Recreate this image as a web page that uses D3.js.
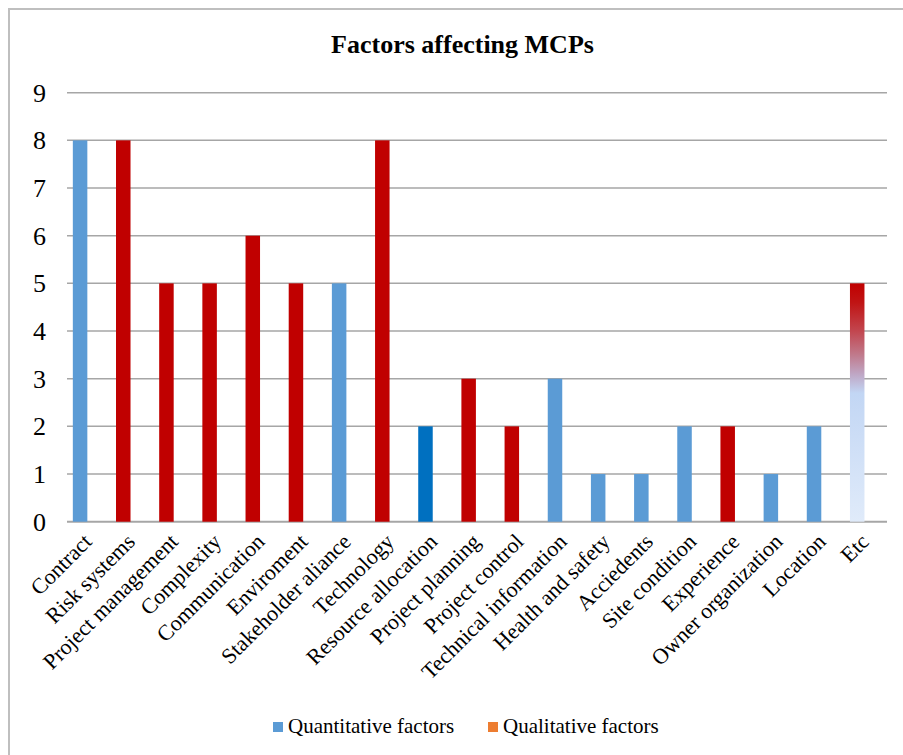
<!DOCTYPE html>
<html>
<head>
<meta charset="utf-8">
<script src="https://cdn.jsdelivr.net/npm/d3@7"></script>
<style>
  html, body { margin: 0; padding: 0; background: #fff; }
  svg { display: block; font-family: "Liberation Serif", "Times New Roman", serif; }
</style>
</head>
<body>
<svg id="chart" width="903" height="755"></svg>
<script>
// Factors and how many times each was cited
const categories = [
  "Contract", "Risk systems", "Project management", "Complexity", "Communication",
  "Enviroment", "Stakeholder aliance", "Technology", "Resource allocation",
  "Project planning", "Project control", "Technical information", "Health and safety",
  "Acciedents", "Site condition", "Experience", "Owner organization", "Location", "Etc"
];
const values = [8, 8, 5, 5, 6, 5, 5, 8, 2, 3, 2, 3, 1, 1, 2, 2, 1, 2, 5];
// Fill style of each bar
const factorType = [
  "quant", "qual", "qual", "qual", "qual", "qual", "quant", "qual", "quantDark",
  "qual", "qual", "quant", "quant", "quant", "quant", "qual", "quant", "quant", "mixed"
];
const yTicks = [0, 1, 2, 3, 4, 5, 6, 7, 8, 9];
const legendItems = ["Quantitative factors", "Qualitative factors"];
const legendColors = ["#5B9BD5", "#ED7D31"];

const fills = {
  quant: "#5B9BD5",
  qual: "#C00000",
  quantDark: "#0070C0",
  mixed: "url(#mixedFill)"
};

const svg = d3.select("#chart");

// chart frame
svg.append("rect")
  .attr("x", 9).attr("y", 9)
  .attr("width", 1000).attr("height", 1000)
  .attr("fill", "#fff")
  .attr("stroke", "#BFBFBF")
  .attr("stroke-width", 2);

// gradient used by the "Etc" bar
const defs = svg.append("defs");
const grad = defs.append("linearGradient")
  .attr("id", "mixedFill")
  .attr("x1", 0).attr("y1", 0).attr("x2", 0).attr("y2", 1);
[
  [0.00, "#C00000"],
  [0.08, "#C01414"],
  [0.20, "#C2464F"],
  [0.30, "#C07A8C"],
  [0.38, "#BFA6C4"],
  [0.46, "#C2D6F4"],
  [1.00, "#E0EBFA"]
].forEach(([o, c]) => grad.append("stop").attr("offset", o).attr("stop-color", c));

const y = d3.scaleLinear().domain([0, 9]).range([521.7, 92.7]);
const x = d3.scaleBand()
  .domain(categories)
  .range([58.5, 878.8])
  .paddingInner(0.664)
  .paddingOuter(0.332);

const gridLeft = 67, gridRight = 887;

// horizontal gridlines
svg.append("g")
  .selectAll("line")
  .data(yTicks)
  .join("line")
  .attr("x1", gridLeft).attr("x2", gridRight)
  .attr("y1", d => y(d)).attr("y2", d => y(d))
  .attr("stroke", "#A6A6A6")
  .attr("stroke-width", d => d === 0 ? 2 : 1.5);

// y-axis labels
svg.append("g")
  .selectAll("text")
  .data(yTicks)
  .join("text")
  .attr("x", 46)
  .attr("y", d => y(d))
  .attr("dy", "0.34em")
  .attr("text-anchor", "end")
  .attr("font-size", 26)
  .attr("fill", "#000")
  .text(d => d);

// bars
svg.append("g")
  .selectAll("rect")
  .data(categories)
  .join("rect")
  .attr("x", d => x(d))
  .attr("width", x.bandwidth())
  .attr("y", (d, i) => y(values[i]))
  .attr("height", (d, i) => y(0) - y(values[i]))
  .attr("fill", (d, i) => fills[factorType[i]]);

// category labels
svg.append("g")
  .selectAll("text")
  .data(categories)
  .join("text")
  .attr("transform", d => `translate(${x(d) + x.bandwidth() / 2 + 13},${543}) rotate(-45)`)
  .attr("text-anchor", "end")
  .attr("font-size", 22)
  .attr("fill", "#000")
  .text(d => d);

// title
svg.append("text")
  .attr("x", 462.5)
  .attr("y", 53)
  .attr("text-anchor", "middle")
  .attr("font-size", 26)
  .attr("font-weight", "bold")
  .attr("fill", "#000")
  .text("Factors affecting MCPs");

// legend
const legendX = [273, 488];
const lg = svg.append("g")
  .selectAll("g")
  .data(legendItems)
  .join("g")
  .attr("transform", (d, i) => `translate(${legendX[i]},722)`);
lg.append("rect")
  .attr("width", 10).attr("height", 10)
  .attr("fill", (d, i) => legendColors[i]);
lg.append("text")
  .attr("x", 15)
  .attr("y", 11)
  .attr("font-size", 21)
  .attr("fill", "#000")
  .text(d => d);
</script>
</body>
</html>
